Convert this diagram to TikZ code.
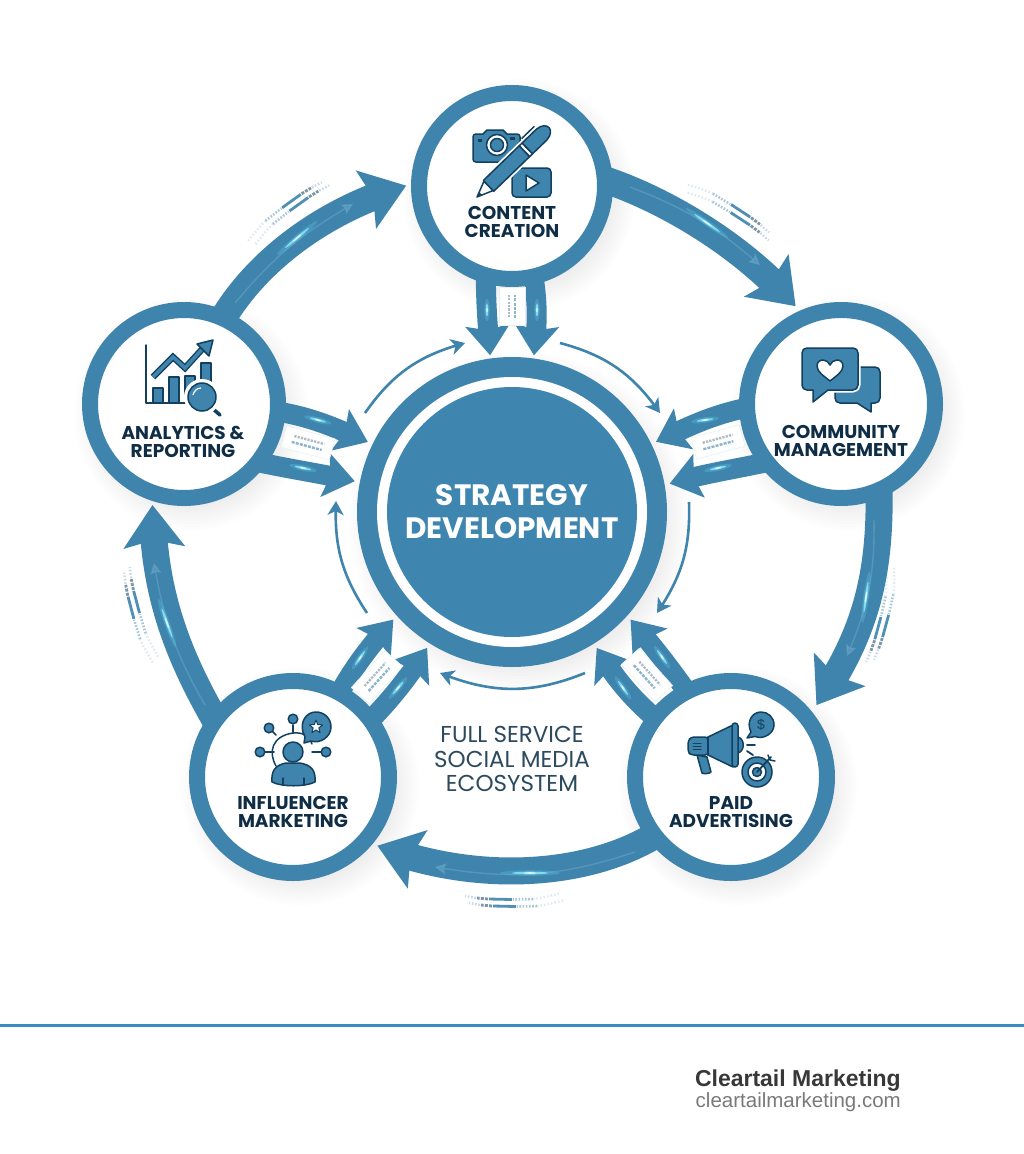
\documentclass[tikz,border=0pt]{standalone}
\usepackage{fontspec}
\usetikzlibrary{arrows.meta,bending}
\setmainfont{Poppins}
\newfontfamily\footfont{Liberation Sans}
\definecolor{ringblue}{HTML}{3F84AC}
\definecolor{hubblue}{HTML}{3E86B0}
\definecolor{inkdark}{HTML}{0F2E45}
\definecolor{icondark}{HTML}{12405E}
\definecolor{bodygrey}{HTML}{2C4A5E}
\definecolor{ruleblue}{HTML}{3A8CBE}
\definecolor{glowa}{HTML}{5CC8EA}
\definecolor{glowb}{HTML}{8FE9FA}
\definecolor{softline}{HTML}{6FA9CC}
\pgfdeclarelayer{shadowlayer}
\pgfdeclarelayer{arrowlayer}
\pgfsetlayers{shadowlayer,arrowlayer,main}
\tikzset{
  sat/.style={circle,draw=ringblue,fill=white,line width=16pt,minimum size=#1,inner sep=0pt},
  hubouter/.style={circle,fill=ringblue,minimum size=310pt,inner sep=0pt},
  hubwhite/.style={circle,fill=white,minimum size=270pt,inner sep=0pt},
  hubinner/.style={circle,fill=hubblue,minimum size=250pt,inner sep=0pt},
  satlabel/.style={align=center,text=inkdark,font=\bfseries\fontsize{18.5}{18.7}\selectfont,inner sep=0pt},
  hublabel/.style={align=center,text=white,font=\bfseries\fontsize{29.5}{33}\selectfont,inner sep=0pt},
  eco/.style={align=center,text=bodygrey,font=\fontsize{23}{24.5}\selectfont,inner sep=0pt},
  bigflow/.style={draw=ringblue,line width=27pt,shorten <=-8pt,-{Stealth[length=42pt,width=60pt,inset=7pt]}},
  smallflow/.style={draw=ringblue,line width=20pt,shorten <=-8pt,-{Stealth[length=30pt,width=44pt,inset=5pt]}},
  thinflow/.style={draw=ringblue,line width=2.6pt,-{Stealth[length=14pt,width=16pt,inset=4pt]}},
  softflow/.style={draw=softline,line width=1.4pt,opacity=.5,-{Stealth[length=11pt,width=11pt,inset=2pt]}},
  iconfill/.style={fill=ringblue,draw=icondark,line width=1.5pt,line join=round,line cap=round},
  iconline/.style={draw=icondark,line width=1.5pt,line cap=round,line join=round},
  iconwhite/.style={fill=white,draw=icondark,line width=1.5pt,line join=round},
}
\newcommand\softshadow[3]{%
  \begin{pgfonlayer}{shadowlayer}
  \foreach \dd in {-9,-6,...,15}{\pgfmathsetmacro\rr{#3+\dd}%
    \fill[black,opacity=.009] (#1+7,#2+9) circle[radius=\rr];}
  \end{pgfonlayer}}
\newcommand\glint[4]{\begin{scope}[shift={(#1,#2)},rotate=#3]
  \fill[glowa,opacity=.32] (0,0) ellipse[x radius=#4,y radius=2.8];
  \fill[glowb,opacity=.8] (0,0) ellipse[x radius=#4*0.6,y radius=1.3];
  \fill[white,opacity=.7] (0,0) ellipse[x radius=#4*0.22,y radius=.8];
\end{scope}}
\newcommand\techmark[3]{\begin{scope}[shift={(#1,#2)},rotate=#3]
  \foreach \yy/\ss in {-3.5/0,3.5/4}{
  \begin{scope}[shift={(\ss,\yy)}]
  \draw[ringblue,opacity=.16,line width=2.4pt,dash pattern=on 1.6pt off 2pt] (-48,6) .. controls (-30,1.5) .. (-22,.4);
  \draw[ringblue,opacity=.45,line width=2.6pt,dash pattern=on 1.6pt off 1.6pt] (-22,.4) -- (-2,0);
  \draw[ringblue,opacity=.9,line width=2.8pt] (-1,0) -- (22,.5);
  \draw[icondark,opacity=.55,line width=2.8pt,dash pattern=on 3pt off 1.2pt] (23,.5) -- (34,1.5);
  \draw[ringblue,opacity=.3,line width=2.4pt,dash pattern=on 1.6pt off 1.8pt] (35,1.6) -- (46,3.5);
  \end{scope}}
\end{scope}}
\newcommand\datachip[5]{\begin{scope}[shift={(#1,#2)},rotate=#3]
  \fill[white,draw=ringblue!12,line width=.6pt] (-#4/2,-#5/2) rectangle (#4/2,#5/2);
  \draw[icondark,opacity=.35,line width=2.4pt,dash pattern=on 2.2pt off 1.2pt] (-#4*0.3,-3.2) -- (#4*0.32,-3.2);
  \draw[ringblue,opacity=.6,line width=2.4pt,dash pattern=on 3pt off 1.2pt] (-#4*0.32,3.2) -- (#4*0.3,3.2);
\end{scope}}
\newcommand\bigbubble{(813,390) -- (807,390) .. controls (804,390) and (802,388) .. (802,385) -- (802,353) .. controls (802,350) and (804,348) .. (807,348) -- (853,348) .. controls (856,348) and (858,350) .. (858,353) -- (858,385) .. controls (858,388) and (856,390) .. (853,390) -- (828,390) -- (813,402) -- cycle}
\begin{document}
\begin{tikzpicture}[x=1pt,y=-1pt]
\useasboundingbox (0,0) rectangle (1024,1154);
\begin{pgfonlayer}{shadowlayer}
\fill[white] (0,0) rectangle (1024,1154);
\end{pgfonlayer}

% shadows
\softshadow{512}{186}{101}\softshadow{184}{404}{102}\softshadow{841}{404}{102}
\softshadow{293}{777}{104}\softshadow{731}{777}{104}\softshadow{512}{512}{155}

% nodes
\node[sat=186pt] (content) at (512,186) {};
\node[sat=188pt] (analytics) at (184,404) {};
\node[sat=188pt] (community) at (841,404) {};
\node[sat=192pt] (influencer) at (293,777) {};
\node[sat=192pt] (paid) at (731,777) {};
\node[hubouter] (hub) at (512,512) {};
\node[hubwhite] (hubmid) at (512,512) {};
\node[hubinner] (hubcore) at (512,512) {};

% big ring arrows
\begin{pgfonlayer}{arrowlayer}
\draw[bigflow,shorten >=6pt] (content.2) .. controls (660,198) and (745,245) .. (community.114);
\draw[bigflow,shorten >=8pt] (community.-68) .. controls (880,570) and (868,635) .. (paid.39);
\draw[bigflow,shorten >=5pt] (paid.217) .. controls (580,880) and (465,882) .. (influencer.-40);
\draw[bigflow,shorten >=4pt] (influencer.142) .. controls (178,655) and (152,590) .. (analytics.252);
\draw[bigflow,shorten >=5pt] (analytics.65) .. controls (255,265) and (320,210) .. (content.179);

% double arrows into the hub
\draw[smallflow,shorten >=3pt] (content.-105) .. controls (486,305) and (488,330) .. (hub.98);
\draw[smallflow,shorten >=3pt] (content.-77) .. controls (538,305) and (537,330) .. (hub.82);
\draw[smallflow,shorten >=5pt] (analytics.-5) .. controls (315,418) and (340,430) .. (hub.154);
\draw[smallflow,shorten >=5pt] (analytics.-36) .. controls (295,470) and (330,475) .. (hub.169);
\draw[smallflow,shorten >=5pt] (community.183) .. controls (712,415) and (685,428) .. (hub.26.6);
\draw[smallflow,shorten >=5pt] (community.216) .. controls (730,470) and (697,475) .. (hub.10.7);
\draw[smallflow,shorten >=5pt] (influencer.61.5) .. controls (355,665) and (375,640) .. (hub.222.5);
\draw[smallflow,shorten >=5pt] (influencer.37.7) .. controls (395,695) and (415,668) .. (hub.238);
\draw[smallflow,shorten >=5pt] (paid.118.7) .. controls (668,665) and (648,640) .. (hub.-42.5);
\draw[smallflow,shorten >=5pt] (paid.142.6) .. controls (628,695) and (608,668) .. (hub.-58);
\end{pgfonlayer}

% thin orbit arrows
\coordinate (ta) at (365,413); \coordinate (tb) at (465,343);
\coordinate (tc) at (560,343); \coordinate (td) at (660,413);
\coordinate (te) at (689,502); \coordinate (tf) at (657,613);
\coordinate (tg) at (585,673); \coordinate (th) at (440,673);
\coordinate (ti) at (367,613); \coordinate (tj) at (336,501);
\draw[thinflow] (ta) to[bend left=20] (tb);
\draw[thinflow] (tc) to[bend left=20] (td);
\draw[thinflow] (te) to[bend left=18] (tf);
\draw[thinflow] (tg) to[bend left=22] (th);
\draw[thinflow] (ti) to[bend left=18] (tj);

% soft inner lines on the big arrows
\coordinate (sa) at (630,187); \coordinate (sb) at (760,265);
\coordinate (sc) at (874,520); \coordinate (sd) at (847,656);
\coordinate (se) at (635,852); \coordinate (sf) at (435,867);
\coordinate (sg) at (205,705); \coordinate (sh) at (154,563);
\coordinate (si) at (235,303); \coordinate (sj) at (353,204);
\draw[softflow] (sa) to[bend left=10] (sb);
\draw[softflow] (sc) to[bend left=12] (sd);
\draw[softflow] (se) to[bend left=14] (sf);
\draw[softflow] (sg) to[bend left=10] (sh);
\draw[softflow] (si) to[bend left=10] (sj);

% glints
\glint{707}{223}{-35}{26}\glint{297}{238}{40}{26}\glint{866}{597}{82}{26}
\glint{530}{873}{0}{30}\glint{167}{623}{-70}{26}
\glint{487}{310}{90}{11}\glint{537}{310}{90}{11}
\glint{318}{420}{-15}{14}\glint{303}{468}{-12}{14}
\glint{705}{420}{8}{14}\glint{718}{468}{12}{14}
\glint{360}{658}{55}{14}\glint{398}{688}{50}{14}
\glint{662}{657}{-55}{14}\glint{623}{688}{-55}{14}

% tech marks
\techmark{730}{208}{-32}\techmark{285}{210}{37}\techmark{885}{615}{256}
\techmark{515}{903}{180}\techmark{137}{617}{106}

% chips
\datachip{512}{306}{90}{38}{26}
\datachip{308}{443}{-15}{50}{22}
\datachip{718}{442}{15}{50}{22}
\datachip{377}{677}{48}{50}{24}
\datachip{647}{675}{-48}{50}{24}

% labels
\node[satlabel] (contentlabel) at (512,222) {CONTENT\\CREATION};
\node[satlabel] (analyticslabel) at (183,442) {ANALYTICS \&\\REPORTING};
\node[satlabel] (communitylabel) at (841,441) {COMMUNITY\\MANAGEMENT};
\node[satlabel] (influencerlabel) at (293,812) {INFLUENCER\\MARKETING};
\node[satlabel] (paidlabel) at (731,812) {PAID\\ADVERTISING};
\node[hublabel] (hubtext) at (512,512) {STRATEGY\\DEVELOPMENT};
\node[eco] (ecotext) at (512,759) {FULL SERVICE\\SOCIAL MEDIA\\ECOSYSTEM};

% footer
\fill[ruleblue] (0,1023.5) rectangle (1024,1026.5);
\node[anchor=base east,inner sep=0pt,text=black!78,font=\footfont\bfseries\fontsize{23}{24}\selectfont] (brand) at (901,1086) {Cleartail Marketing};
\node[anchor=base east,inner sep=0pt,text=black!52,font=\footfont\fontsize{20.5}{24}\selectfont] (site) at (901,1107) {cleartailmarketing.com};

% icon: content creation
\filldraw[iconfill] (476,134) -- (483,134) -- (487,130) -- (503,130) -- (507,134) -- (517,134) .. controls (519,134) and (520,135) .. (520,137) -- (520,159) .. controls (520,161) and (519,162) .. (517,162) -- (476,162) .. controls (474,162) and (473,161) .. (473,159) -- (473,137) .. controls (473,135) and (474,134) .. (476,134) -- cycle;
\fill[white] (497,145) circle[radius=10.5];
\filldraw[iconfill] (497,145) circle[radius=6.5];
\draw[iconline] (497,145) circle[radius=10.5];
\fill[icondark] (478,139) rectangle (482,142);
\fill[icondark] (510,137) rectangle (515,139.5);
\filldraw[iconfill,rounded corners=4pt] (512,168) rectangle (551,197);
\filldraw[iconwhite] (526,175) -- (539,183) -- (526,191) -- cycle;
\begin{scope}[shift={(477,197)},rotate=44]
  \fill[white] (-2,-10) rectangle (104,10);
  \filldraw[iconwhite] (0,0) -- (16,-6.5) -- (16,6.5) -- cycle;
  \fill[icondark] (0,0) -- (5,-2) -- (5,2) -- cycle;
  \filldraw[iconfill] (16,-7.5) -- (66,-7.5) -- (66,7.5) -- (16,7.5) -- cycle;
  \filldraw[iconwhite] (66,-7.5) rectangle (70,7.5);
  \filldraw[iconfill] (70,-7.5) -- (90,-7.5) .. controls (97,-7) and (100,-3) .. (100,0) .. controls (100,3) and (97,7) .. (90,7.5) -- (70,7.5) -- cycle;
  \draw[iconline] (73,-11) -- (90,-11);
\end{scope}

% icon: analytics
\draw[iconline] (146,345) -- (146,403) -- (187,403);
\filldraw[iconfill] (153,388) rectangle (163,403);
\filldraw[iconfill] (169,377) rectangle (179,403);
\filldraw[iconfill] (185,376) rectangle (195,395);
\filldraw[iconfill] (201,363) rectangle (211,382);
\draw[icondark,line width=6.4pt,line join=miter] (153,377) -- (173,357) -- (185,368) -- (205,346);
\draw[ringblue,line width=3.6pt,line join=miter] (153,377) -- (173,357) -- (185,368) -- (205,346);
\filldraw[iconfill] (213,340) -- (209,356) -- (197,344) -- cycle;
\draw[icondark,line width=3.6pt,line cap=round] (212,408) -- (220,415);
\fill[white] (202,397) circle[radius=18];
\filldraw[iconfill] (202,397) circle[radius=14];
\draw[white,line width=1.2pt] (193,395) .. controls (194,391) and (197,388) .. (201,388);

% icon: community
\filldraw[iconfill] (840,367) -- (875,367) .. controls (878,367) and (880,369) .. (880,372) -- (880,398) .. controls (880,401) and (878,403) .. (875,403) -- (871,403) -- (871,412) -- (857,403) -- (840,403) .. controls (837,403) and (835,401) .. (835,398) -- (835,372) .. controls (835,369) and (837,367) .. (840,367) -- cycle;
\draw[white,line width=5pt,line join=round] \bigbubble;
\filldraw[iconfill] \bigbubble;
\begin{scope}[shift={(830,370)}]
\filldraw[iconwhite] (0,11) .. controls (-6,6) and (-13,2) .. (-13,-4) .. controls (-13,-9) and (-9,-10) .. (-7,-10) .. controls (-4,-10) and (-1,-8) .. (0,-5) .. controls (1,-8) and (4,-10) .. (7,-10) .. controls (9,-10) and (13,-9) .. (13,-4) .. controls (13,2) and (6,6) .. (0,11) -- cycle;
\end{scope}

% icon: influencer
\draw[iconline] (276,735) -- (271,730);
\draw[iconline] (293,733) -- (293,725);
\draw[iconline] (265,752) -- (274,752);
\draw[iconline] (321,752) -- (312,752);
\filldraw[iconfill] (269,728) circle[radius=4.8];
\filldraw[iconfill] (293,719) circle[radius=4.8];
\filldraw[iconfill] (260,752) circle[radius=4.8];
\filldraw[iconfill] (326,752) circle[radius=4.8];
\draw[iconline] (276,766) .. controls (268,752) and (272,736) .. (293,733) .. controls (303,732) and (309,736) .. (312,744);
\filldraw[iconfill] (293,752) circle[radius=10];
\filldraw[iconfill] (272,782) .. controls (271,770) and (276,765) .. (286,763) -- (300,763) .. controls (311,765) and (316,770) .. (315,782) .. controls (305,787) and (282,787) .. (272,782) -- cycle;
\draw[iconline] (283,778) -- (283,785);
\draw[iconline] (304,778) -- (304,785);
\filldraw[iconfill] (305,737) -- (304,743) -- (311,741) .. controls (320,744) and (331,737) .. (331,727) .. controls (331,718) and (324,712) .. (316,712) .. controls (306,712) and (300,722) .. (303,732) -- cycle;
\begin{scope}[shift={(316,727)}]
\filldraw[iconwhite,line width=1pt] (0,-7) -- (-1.76,-2.43) -- (-6.66,-2.16) -- (-2.85,.93) -- (-4.11,5.66) -- (0,3) -- (4.11,5.66) -- (2.85,.93) -- (6.66,-2.16) -- (1.76,-2.43) -- cycle;
\end{scope}

% icon: paid advertising
\filldraw[iconfill] (697,755) -- (702,773) .. controls (703,774) and (709,774) .. (711,772) -- (707,757) -- cycle;
\filldraw[iconfill,rounded corners=3pt] (708,737) -- (691,737) -- (688,741) -- (688,752) -- (691,755) -- (708,755) -- cycle;
\filldraw[iconfill] (708,737) -- (733,725) -- (733,767) -- (708,755) -- cycle;
\draw[iconline] (708,737) -- (708,755);
\draw[iconline,line width=1pt] (693,743) -- (701,743);
\draw[iconline,line width=1pt] (693,746) -- (701,746);
\draw[iconline,line width=1pt] (693,749) -- (701,749);
\filldraw[iconfill] (738,737) .. controls (745,739) and (745,751) .. (738,753) -- cycle;
\filldraw[iconfill,rounded corners=3pt] (732,723) rectangle (738,767);
\filldraw[iconfill] (751,732) -- (747,738) -- (755,736.5) .. controls (764,740) and (774,733) .. (774,725) .. controls (774,717) and (768,712) .. (761,712) .. controls (752,712) and (746,722) .. (751,732) -- cycle;
\node[text=icondark,font=\footfont\fontsize{14}{14}\selectfont,inner sep=0pt] (dollar) at (761,725) {\$};
\draw[iconline,line width=1.8pt] (747,745) -- (755,745);
\draw[iconline,line width=1.8pt] (747,751) -- (753,755);
\filldraw[iconfill] (757,772) circle[radius=15];
\fill[white] (757,772) circle[radius=9];
\draw[iconline] (757,772) circle[radius=9];
\filldraw[iconfill] (757,772) circle[radius=4.5];
\draw[iconline,line width=1.8pt] (757,772) -- (771,757);
\draw[iconline,line width=1.5pt] (768,755) -- (770,760) -- (775,761);

\end{tikzpicture}
\end{document}
